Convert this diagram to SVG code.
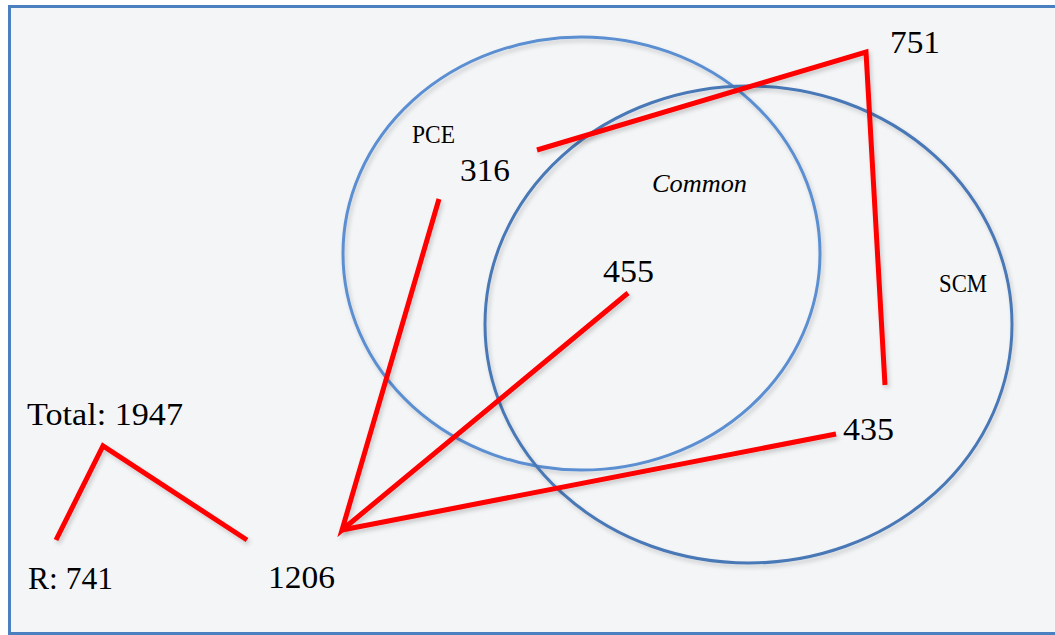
<svg xmlns="http://www.w3.org/2000/svg" width="1055" height="635" viewBox="0 0 1055 635">
<defs>
<filter id="sh" x="-10%" y="-10%" width="120%" height="120%">
<feDropShadow dx="2" dy="3" stdDeviation="2" flood-color="#000" flood-opacity="0.18"/>
</filter>
<style>
.t{font-family:"Liberation Serif","DejaVu Serif",serif;fill:#000}
.big{font-size:32px}
.sm{font-size:25px}
.red{fill:none;stroke:#ff0000;stroke-width:5;stroke-linejoin:miter;filter:url(#sh)}
.e1{fill:none;stroke:#5b8fd2;stroke-width:3;filter:url(#sh)}
.e2{fill:none;stroke:#4a78b6;stroke-width:3;filter:url(#sh)}
</style>
</defs>
<rect x="0" y="0" width="1055" height="635" fill="#ffffff"/>
<rect x="9.5" y="6.5" width="1060" height="627" fill="#f4f5f7" stroke="#4a7fc0" stroke-width="3"/>
<g id="pce"><ellipse class="e1" cx="581.5" cy="253.5" rx="238.5" ry="216.5"/><text class="t sm" x="412" y="143" textLength="43" lengthAdjust="spacingAndGlyphs">PCE</text></g>
<g id="scm"><ellipse class="e2" cx="748.5" cy="324.5" rx="263.5" ry="238.5"/><text class="t sm" x="939" y="292" textLength="48" lengthAdjust="spacingAndGlyphs">SCM</text></g>
<g id="common"><text class="t" x="652" y="192" font-size="26" font-style="italic" textLength="95" lengthAdjust="spacingAndGlyphs">Common</text></g>
<g id="connectors">
<polyline class="red" points="537,150 866,52 885,385"/>
<polyline class="red" points="439,199 342,530 628,293"/>
<line class="red" x1="342" y1="530" x2="836" y2="434"/>
<polyline class="red" points="56,540 103,446 247,540"/>
</g>
<g id="n751"><text class="t big" x="890" y="53" textLength="50" lengthAdjust="spacingAndGlyphs">751</text></g>
<g id="n316"><text class="t big" x="460" y="181" textLength="50" lengthAdjust="spacingAndGlyphs">316</text></g>
<g id="n455"><text class="t big" x="603" y="282" textLength="51" lengthAdjust="spacingAndGlyphs">455</text></g>
<g id="n435"><text class="t big" x="843" y="440" textLength="51" lengthAdjust="spacingAndGlyphs">435</text></g>
<g id="total"><text class="t big" x="27" y="425" textLength="156" lengthAdjust="spacingAndGlyphs">Total: 1947</text></g>
<g id="r741"><text class="t big" x="28" y="589" textLength="85" lengthAdjust="spacingAndGlyphs">R: 741</text></g>
<g id="n1206"><text class="t big" x="268" y="588" textLength="67" lengthAdjust="spacingAndGlyphs">1206</text></g>
</svg>
